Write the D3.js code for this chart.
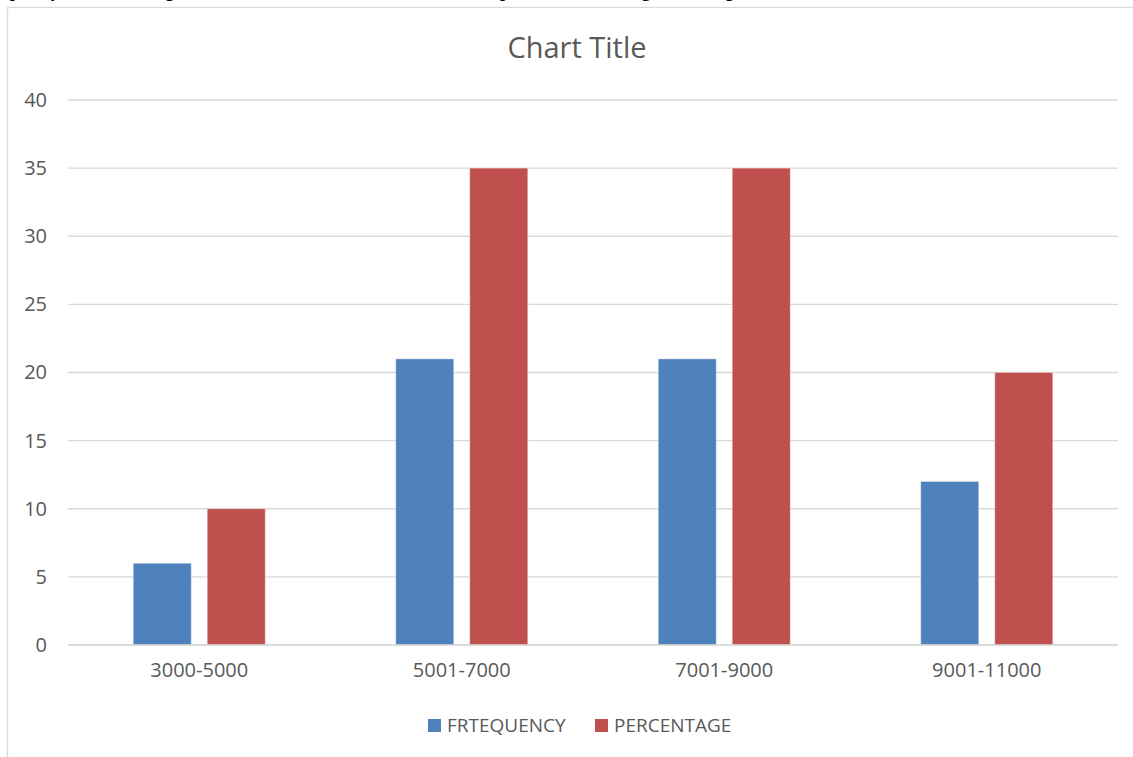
<!DOCTYPE html>
<html>
<head>
<meta charset="utf-8">
<script src="https://cdn.jsdelivr.net/npm/d3@7"></script>
<style>
  html, body { margin: 0; padding: 0; background: #ffffff; }
  svg { display: block; }
</style>
</head>
<body>
<svg id="chart" width="1133" height="757"></svg>
<script>
// Monthly income bands and the two series plotted for each band
const categories = ["3000-5000", "5001-7000", "7001-9000", "9001-11000"];
const seriesNames = ["FRTEQUENCY", "PERCENTAGE"];
const frequency = [6, 21, 21, 12];
const percentage = [10, 35, 35, 20];
const yTicks = [0, 5, 10, 15, 20, 25, 30, 35, 40];
const seriesColors = ["#4f81bd", "#c0504d"];
const chartTitle = "Chart Title";
const captionText = "Frequency and Percentage distribution of the total income of the respondents according to the wage";

const seriesValues = [frequency, percentage];
const rows = categories.map((c, i) => ({
  category: c,
  values: seriesNames.map((s, j) => ({ series: s, value: seriesValues[j][i], color: seriesColors[j] }))
}));

const svg = d3.select("#chart");
const textColor = "#595959";
const gridColor = "#d9d9d9";
const font = "'Open Sans', 'Noto Sans', sans-serif";

// Document caption running off the top edge of the page crop
svg.append("text")
  .attr("x", -22)
  .attr("y", -3)
  .attr("font-family", "'Liberation Serif', 'DejaVu Serif', serif")
  .attr("font-weight", "bold")
  .attr("font-size", 18)
  .attr("fill", "#000")
  .text(captionText);

// Chart area frame
svg.append("rect")
  .attr("x", 7.5)
  .attr("y", 7.5)
  .attr("width", 1140)
  .attr("height", 770)
  .attr("fill", "none")
  .attr("stroke", gridColor)
  .attr("stroke-width", 1.3);

const plot = { left: 68, right: 1118, top: 100, bottom: 645 };

const x = d3.scaleBand()
  .domain(categories)
  .range([plot.left, plot.right])
  .paddingInner(0)
  .paddingOuter(0);

const xSub = d3.scaleBand()
  .domain(seriesNames)
  .range([0, x.bandwidth()])
  .paddingInner(16 / 74)
  .paddingOuter(0.8816);

const y = d3.scaleLinear()
  .domain([0, 40])
  .range([plot.bottom, plot.top]);

// Horizontal gridlines
svg.append("g")
  .selectAll("line")
  .data(yTicks)
  .join("line")
  .attr("x1", plot.left)
  .attr("x2", plot.right)
  .attr("y1", d => y(d))
  .attr("y2", d => y(d))
  .attr("stroke", gridColor)
  .attr("stroke-width", 1.3);

// Y axis labels
const yAxis = svg.append("g")
  .attr("transform", `translate(${plot.left},0)`)
  .call(d3.axisLeft(y).tickValues(yTicks).tickSize(0).tickPadding(21));
yAxis.select(".domain").remove();
yAxis.selectAll("text")
  .attr("font-family", font)
  .attr("font-size", 20)
  .attr("fill", textColor);

// Bars
const groups = svg.append("g")
  .selectAll("g")
  .data(rows)
  .join("g")
  .attr("transform", d => `translate(${x(d.category)},0)`);

groups.selectAll("rect")
  .data(d => d.values)
  .join("rect")
  .attr("x", d => xSub(d.series))
  .attr("y", d => y(d.value))
  .attr("width", xSub.bandwidth())
  .attr("height", d => y(0) - y(d.value))
  .attr("fill", d => d.color)
  .attr("stroke", "#ffffff")
  .attr("stroke-opacity", 0.35)
  .attr("stroke-width", 1);

// Baseline
svg.append("line")
  .attr("x1", plot.left)
  .attr("x2", plot.right)
  .attr("y1", y(0))
  .attr("y2", y(0))
  .attr("stroke", gridColor)
  .attr("stroke-width", 1.5);

// X axis category labels
const xAxis = svg.append("g")
  .attr("transform", `translate(0,${y(0)})`)
  .call(d3.axisBottom(x).tickSize(0).tickPadding(18));
xAxis.select(".domain").remove();
xAxis.selectAll("text")
  .attr("font-family", font)
  .attr("font-size", 20)
  .attr("fill", textColor);

// Title
svg.append("text")
  .attr("x", 577)
  .attr("y", 58)
  .attr("text-anchor", "middle")
  .attr("font-family", font)
  .attr("font-size", 29)
  .attr("fill", textColor)
  .text(chartTitle);

// Legend
const legendX = [428, 595];
const legend = svg.append("g")
  .selectAll("g")
  .data(seriesNames)
  .join("g")
  .attr("transform", (d, i) => `translate(${legendX[i]},719)`);
legend.append("rect")
  .attr("width", 13)
  .attr("height", 13)
  .attr("fill", (d, i) => seriesColors[i]);
legend.append("text")
  .attr("x", 19)
  .attr("y", 13)
  .attr("font-family", font)
  .attr("font-size", 19)
  .attr("fill", textColor)
  .text(d => d);
</script>
</body>
</html>
